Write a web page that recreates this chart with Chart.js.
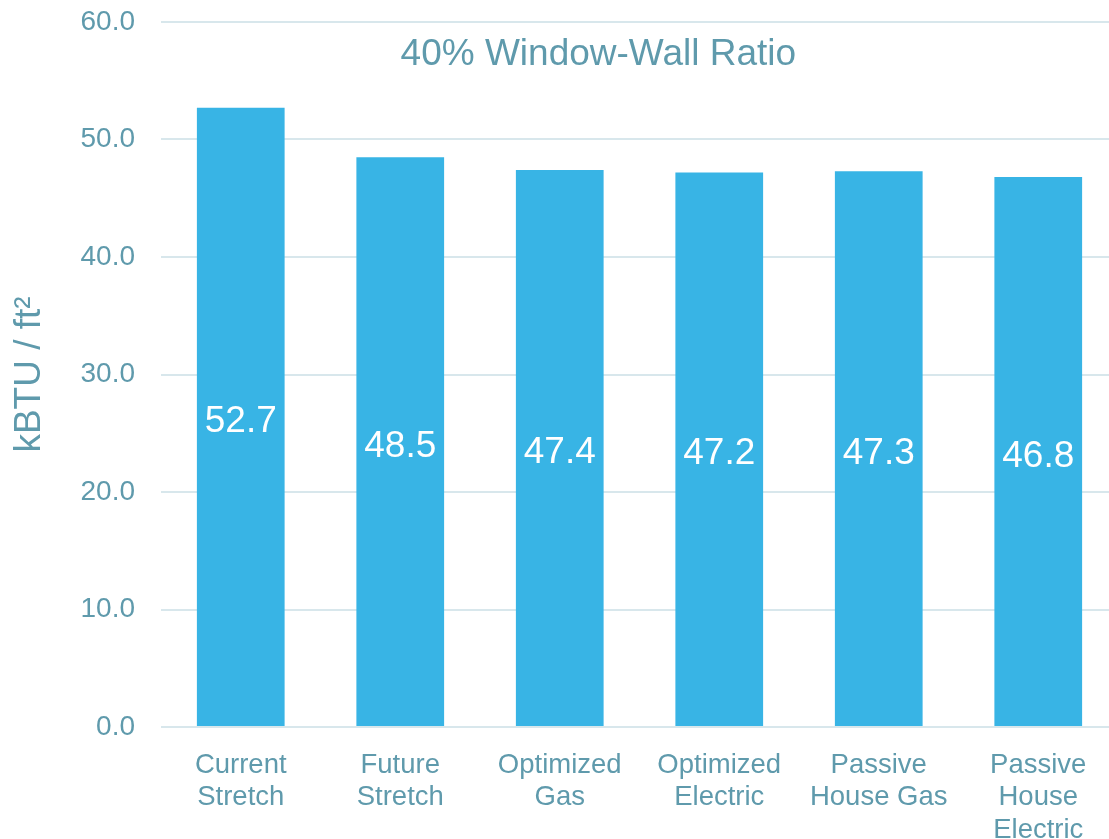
<!DOCTYPE html>
<html>
<head>
<meta charset="utf-8">
<script src="https://cdn.jsdelivr.net/npm/chart.js@4/dist/chart.umd.min.js"></script>
<style>
    html, body { margin: 0; padding: 0; background: #fff; overflow: hidden; }
    #wrap { width: 1120px; height: 839px; }
</style>
</head>
<body>
<div id="wrap"><canvas id="eui-chart"></canvas></div>
<script>
// Energy use intensity per design option
const categories = [
    ['Current', 'Stretch'],
    ['Future', 'Stretch'],
    ['Optimized', 'Gas'],
    ['Optimized', 'Electric'],
    ['Passive', 'House Gas'],
    ['Passive', 'House', 'Electric']
];
const euiValues = [52.7, 48.5, 47.4, 47.2, 47.3, 46.8];
const yTicks = [0, 10, 20, 30, 40, 50, 60];

const chartTitle = '40% Window-Wall Ratio';
const yAxisTitle = 'kBTU / ft\u00B2';

// Colors
const barBlue = '#38B4E5';
const textTeal = '#5F9AAC';
const gridColor = '#D8E7EC';
const fontFamily = "'Liberation Sans', Arial, sans-serif";

// Title drawn inside the plot area, above the bars
const innerTitle = {
    id: 'innerTitle',
    afterDraw(chart) {
        const { ctx, chartArea } = chart;
        ctx.save();
        ctx.font = `37px ${fontFamily}`;
        ctx.fillStyle = textTeal;
        ctx.textAlign = 'center';
        ctx.textBaseline = 'middle';
        ctx.fillText(chartTitle, chartArea.left + chartArea.width * 0.457, chartArea.top + 33);
        ctx.restore();
    }
};

// White value labels centred in each bar
const barValues = {
    id: 'barValues',
    afterDatasetsDraw(chart) {
        const { ctx } = chart;
        const meta = chart.getDatasetMeta(0);
        ctx.save();
        ctx.font = `37px ${fontFamily}`;
        ctx.fillStyle = '#ffffff';
        ctx.textAlign = 'center';
        ctx.textBaseline = 'middle';
        meta.data.forEach((bar, i) => {
            const mid = (bar.y + bar.base) / 2;
            ctx.fillText(euiValues[i].toFixed(1), bar.x, mid + 5);
        });
        ctx.restore();
    }
};

new Chart(document.getElementById('eui-chart'), {
    type: 'bar',
    data: {
        labels: categories,
        datasets: [{
            data: euiValues,
            backgroundColor: barBlue,
            borderWidth: 0,
            categoryPercentage: 1,
            barPercentage: 0.55
        }]
    },
    options: {
        responsive: true,
        maintainAspectRatio: false,
        animation: false,
        layout: { padding: { top: 22, right: 2, left: 0, bottom: 0 } },
        plugins: {
            legend: { display: false },
            tooltip: { enabled: false }
        },
        scales: {
            x: {
                grid: { display: false },
                border: { display: false },
                ticks: {
                    color: textTeal,
                    font: { family: fontFamily, size: 27.5, lineHeight: 1.18 },
                    padding: 14,
                    maxRotation: 0,
                    autoSkip: false
                },
                afterFit(scale) { scale.height = 112; }
            },
            y: {
                min: 0,
                max: 60,
                afterBuildTicks(scale) {
                    scale.ticks = yTicks.map(v => ({ value: v }));
                },
                grid: { color: gridColor, lineWidth: 2, drawTicks: false },
                border: { display: false },
                ticks: {
                    color: textTeal,
                    font: { family: fontFamily, size: 28 },
                    padding: 26,
                    callback: v => v.toFixed(1)
                },
                title: {
                    display: true,
                    text: yAxisTitle,
                    color: textTeal,
                    font: { family: fontFamily, size: 37 },
                    padding: { top: 8, bottom: 0 }
                },
                afterFit(scale) {
                    scale.width = 161;
                    scale.paddingTop = 0;
                    scale.paddingBottom = 0;
                }
            }
        }
    },
    plugins: [innerTitle, barValues]
});
</script>
</body>
</html>
